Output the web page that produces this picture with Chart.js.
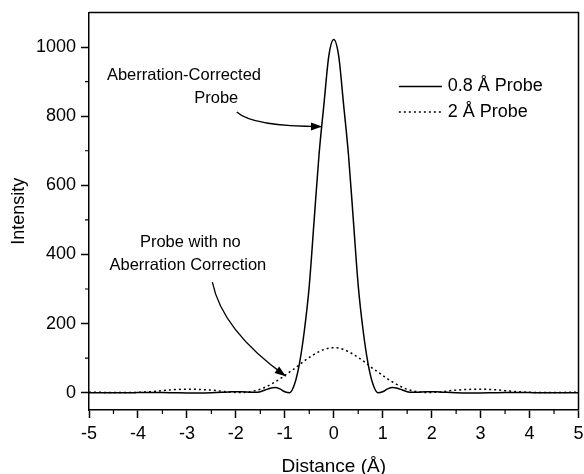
<!DOCTYPE html>
<html>
<head>
<meta charset="utf-8">
<script src="https://cdn.jsdelivr.net/npm/chart.js@4.4.1/dist/chart.umd.min.js"></script>
<style>
    body { margin: 0; background: #fff; }
    #wrap { width: 584px; height: 474px; }
</style>
</head>
<body>
<div id="wrap"><canvas id="probeChart"></canvas></div>
<script>
const FONT = "'Liberation Sans', Arial, sans-serif";

// Abstand in Å (x-Werte, gemeinsam für beide Kurven)
const distance = [-5, -4.75, -4.5, -4.25, -4, -3.75, -3.5, -3.25, -3, -2.75, -2.5, -2.3, -2.1, -1.9, -1.7, -1.6, -1.5, -1.4, -1.3, -1.2, -1.1, -1, -0.9, -0.8, -0.7, -0.6, -0.5, -0.4, -0.3, -0.2, -0.1,
    0, 0.1, 0.2, 0.3, 0.4, 0.5, 0.6, 0.7, 0.8, 0.9, 1, 1.1, 1.2, 1.3, 1.4, 1.5, 1.6, 1.7, 1.9, 2.1, 2.3, 2.5, 2.75, 3, 3.25, 3.5, 3.75, 4, 4.25, 4.5, 4.75, 5];

// 0.8 Å Sonde (korrigiert)
const probe08 = [0, 0, 0, 0, 0.3, 0.5, 0.5, 0, -0.5, -0.5, 0, 1, 2.5, 3, 1.5, 1, 3, 8, 13, 15, 11, 3, 0, 25, 85, 180, 310, 500, 690, 835, 975,
    1022, 975, 835, 690, 500, 310, 180, 85, 25, 0, 3, 11, 15, 13, 8, 3, 1, 1.5, 3, 2.5, 1, 0, -0.5, -0.5, 0, 0.5, 0.5, 0.3, 0, 0, 0, 0];

// 2 Å Sonde (ohne Korrektur)
const probe2 = [1, 1, 0.5, 0.3, 1, 3, 6, 9, 10, 9.5, 7.5, 4.5, 1.5, 0.5, 3, 6, 10, 16, 23, 31, 40, 50, 60, 70, 81, 92, 102, 111, 119, 125, 129,
    130, 129, 125, 119, 111, 102, 92, 81, 70, 60, 50, 40, 31, 23, 16, 10, 6, 3, 0.5, 1.5, 4.5, 7.5, 9.5, 10, 9, 6, 3, 1, 0.3, 0.5, 1, 1];

const seriesLabels = ["0.8 Å Probe", "2 Å Probe"];

const xMajorTicks = [-5, -4, -3, -2, -1, 0, 1, 2, 3, 4, 5];
const xMinorTicks = [-4.5, -3.5, -2.5, -1.5, -0.5, 0.5, 1.5, 2.5, 3.5, 4.5];
const yMajorTicks = [0, 200, 400, 600, 800, 1000];
const yMinorTicks = [100, 300, 500, 700, 900];

function toPoints(values) {
    return distance.map((d, i) => ({ x: d, y: values[i] }));
}

// Rahmen oben/rechts + kleine Zwischenstriche
const framePlugin = {
    id: 'frame',
    afterDraw(chart) {
        const { ctx, chartArea: a, scales } = chart;
        ctx.save();
        ctx.strokeStyle = '#000';
        ctx.lineWidth = 1.5;
        ctx.beginPath();
        ctx.moveTo(a.left, a.top);
        ctx.lineTo(a.right, a.top);
        ctx.lineTo(a.right, a.bottom);
        ctx.stroke();

        ctx.lineWidth = 1.2;
        ctx.beginPath();
        xMinorTicks.forEach(v => {
            const px = scales.x.getPixelForValue(v);
            ctx.moveTo(px, a.bottom);
            ctx.lineTo(px, a.bottom + 4);
        });
        yMinorTicks.forEach(v => {
            const py = scales.y.getPixelForValue(v);
            ctx.moveTo(a.left, py);
            ctx.lineTo(a.left - 4, py);
        });
        ctx.stroke();
        ctx.restore();
    }
};

function arrow(ctx, sx, sy, cx, cy, ex, ey) {
    ctx.beginPath();
    ctx.moveTo(sx, sy);
    ctx.quadraticCurveTo(cx, cy, ex, ey);
    ctx.stroke();
    const ang = Math.atan2(ey - cy, ex - cx);
    const len = 11, half = 4;
    ctx.beginPath();
    ctx.moveTo(ex, ey);
    ctx.lineTo(ex - len * Math.cos(ang) + half * Math.sin(ang), ey - len * Math.sin(ang) - half * Math.cos(ang));
    ctx.lineTo(ex - len * Math.cos(ang) - half * Math.sin(ang), ey - len * Math.sin(ang) + half * Math.cos(ang));
    ctx.closePath();
    ctx.fill();
}

// Beschriftungen mit Pfeilen + Legende
const notesPlugin = {
    id: 'notes',
    afterDraw(chart) {
        const { ctx, scales } = chart;
        const X = v => scales.x.getPixelForValue(v);
        const Y = v => scales.y.getPixelForValue(v);
        ctx.save();
        ctx.fillStyle = '#000';
        ctx.strokeStyle = '#000';
        ctx.font = '16.5px ' + FONT;
        ctx.textAlign = 'center';
        ctx.textBaseline = 'middle';
        ctx.fillText('Aberration-Corrected', X(-3.06), Y(918));
        ctx.fillText('Probe', X(-2.4), Y(851));
        ctx.fillText('Probe with no', X(-2.93), Y(434));
        ctx.fillText('Aberration Correction', X(-2.98), Y(367));

        ctx.lineWidth = 1.3;
        arrow(ctx, X(-1.98), Y(812), X(-1.66), Y(770), X(-0.24), Y(770));
        arrow(ctx, X(-2.48), Y(320), X(-2.28), Y(180), X(-0.98), Y(48));

        // Legende
        const ds = chart.data.datasets;
        const rows = [886, 812];
        ctx.font = '18px ' + FONT;
        ctx.textAlign = 'left';
        ds.forEach((d, i) => {
            ctx.lineWidth = d.borderWidth;
            ctx.setLineDash(d.borderDash || []);
            ctx.beginPath();
            ctx.moveTo(X(1.33), Y(rows[i]));
            ctx.lineTo(X(2.21), Y(rows[i]));
            ctx.stroke();
            ctx.setLineDash([]);
            ctx.fillText(d.label, X(2.33), Y(rows[i]));
        });
        ctx.restore();
    }
};

new Chart(document.getElementById('probeChart'), {
    type: 'line',
    data: {
        datasets: [
            {
                label: seriesLabels[0],
                data: toPoints(probe08),
                borderColor: '#000',
                borderWidth: 1.5,
                pointRadius: 0,
                cubicInterpolationMode: 'monotone'
            },
            {
                label: seriesLabels[1],
                data: toPoints(probe2),
                borderColor: '#000',
                borderWidth: 1.5,
                borderDash: [2, 3],
                pointRadius: 0,
                cubicInterpolationMode: 'monotone'
            }
        ]
    },
    options: {
        responsive: true,
        maintainAspectRatio: false,
        animation: false,
        layout: { padding: { left: 0, right: 5.5, top: 12.5, bottom: 0 } },
        plugins: {
            legend: { display: false },
            tooltip: { enabled: false }
        },
        scales: {
            x: {
                type: 'linear',
                min: -5,
                max: 5,
                afterBuildTicks: s => { s.ticks = xMajorTicks.map(v => ({ value: v })); },
                afterFit: s => { s.height = 64; s.paddingLeft = 0; s.paddingRight = 0; },
                ticks: { color: '#000', font: { family: FONT, size: 18 }, padding: 5, maxRotation: 0, callback: v => String(v) },
                grid: { drawOnChartArea: false, tickLength: 8, tickColor: '#000', tickWidth: 1.5 },
                border: { color: '#000', width: 1.5 },
                title: { display: true, text: 'Distance (Å)', color: '#000', font: { family: FONT, size: 19 }, padding: { top: 0, bottom: -4 } }
            },
            y: {
                min: -50,
                max: 1100,
                afterBuildTicks: s => { s.ticks = yMajorTicks.map(v => ({ value: v })); },
                afterFit: s => { s.width = 89; s.paddingTop = 0; s.paddingBottom = 0; },
                ticks: { color: '#000', font: { family: FONT, size: 18 }, padding: 5, callback: v => String(v) },
                grid: { drawOnChartArea: false, tickLength: 8, tickColor: '#000', tickWidth: 1.5 },
                border: { color: '#000', width: 1.5 },
                title: { display: true, text: 'Intensity', color: '#000', font: { family: FONT, size: 18 }, padding: { top: 8 } }
            }
        }
    },
    plugins: [framePlugin, notesPlugin]
});
</script>
</body>
</html>
